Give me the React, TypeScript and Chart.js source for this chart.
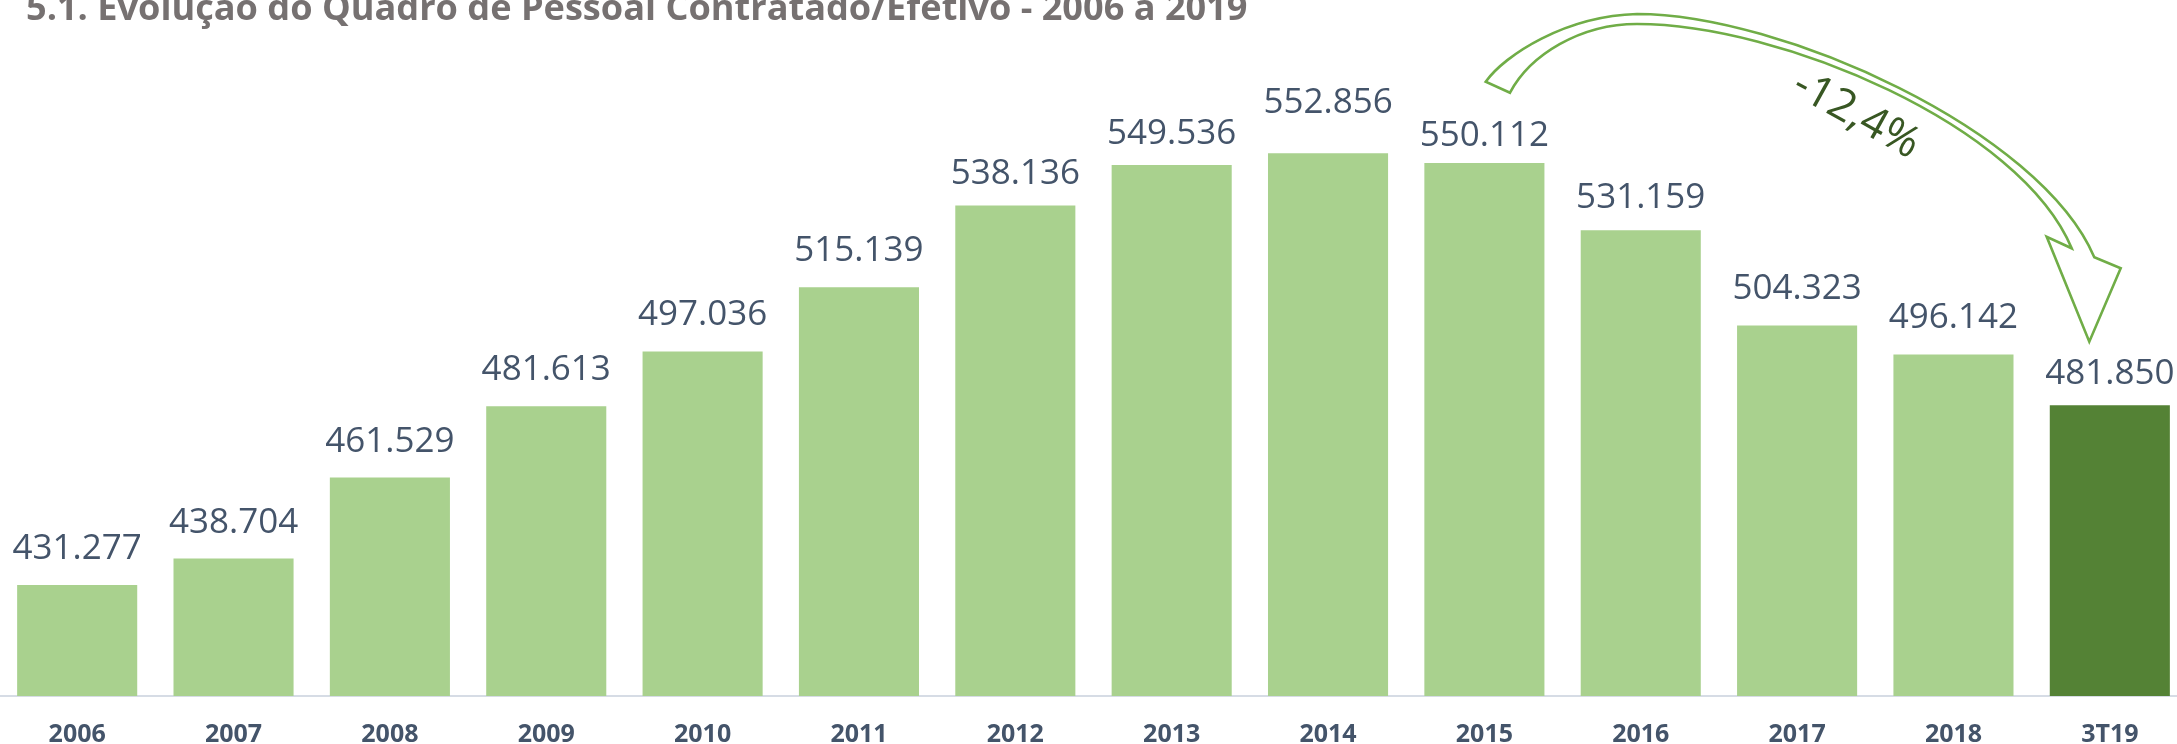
import React, { useEffect, useRef } from 'react';
import { Chart, registerables } from 'chart.js';

Chart.register(...registerables);

// ---- data ----
const categories = ['2006', '2007', '2008', '2009', '2010', '2011', '2012', '2013', '2014', '2015', '2016', '2017', '2018', '3T19'];
const headcount = [431277, 438704, 461529, 481613, 497036, 515139, 538136, 549536, 552856, 550112, 531159, 504323, 496142, 481850];
const highlightCategory = '3T19';
const titleText = '5.1. Evolução do Quadro de Pessoal Contratado/Efetivo - 2006 a 2019';
const changeText = '-12,4%';

// ---- styling ----
const LIGHT_GREEN = '#A9D18E';
const DARK_GREEN = '#548235';
const TEXT_BLUE = '#44546A';
const ARROW_GREEN = '#70AD47';
const CANVAS_W = 2189;
const CANVAS_H = 744;
const CANVAS_LEFT = -1;
// vertical gap (px) between each label's baseline and its bar top, as placed in the original
const labelGap = [26, 26, 26, 26, 26, 26, 21, 21, 40, 17, 22, 27, 27, 21];

function fmt(v: number): string {
  return String(v).replace(/\B(?=(\d{3})+(?!\d))/g, '.');
}

const valueLabels = {
  id: 'valueLabels',
  afterDatasetsDraw(chart: any) {
    const ctx = chart.ctx;
    const meta = chart.getDatasetMeta(0);
    ctx.save();
    ctx.font = '35px "Open Sans"';
    ctx.fillStyle = TEXT_BLUE;
    ctx.textAlign = 'center';
    ctx.textBaseline = 'alphabetic';
    meta.data.forEach((bar: any, i: number) => {
      ctx.fillText(fmt(headcount[i]), bar.x, bar.y - labelGap[i]);
    });
    ctx.restore();
  },
};

const decorations = {
  id: 'decorations',
  afterDraw(chart: any) {
    const ctx = chart.ctx;
    const ox = -CANVAS_LEFT;
    const P = (x: number, y: number): [number, number] => [x + ox, y];
    ctx.save();
    // title
    ctx.font = 'bold 31px "Open Sans"';
    ctx.fillStyle = '#767171';
    ctx.textAlign = 'left';
    ctx.textBaseline = 'alphabetic';
    const w = ctx.measureText(titleText).width;
    const target = 1222;
    const size = 31 * target / w;
    ctx.font = `bold ${size.toFixed(2)}px "Open Sans"`;
    ctx.fillText(titleText, ...P(26, 20));

    // curved block arrow (outline)
    ctx.beginPath();
    ctx.moveTo(...P(1485.7, 81.7));
    ctx.bezierCurveTo(...P(1505, 55), ...P(1565, 16), ...P(1637, 14));
    ctx.bezierCurveTo(...P(1780, 14), ...P(2040, 130), ...P(2094.3, 257.3));
    ctx.lineTo(...P(2120.7, 268.3));
    ctx.lineTo(...P(2089.3, 341.7));
    ctx.lineTo(...P(2046.7, 236.7));
    ctx.lineTo(...P(2071.7, 248.3));
    ctx.bezierCurveTo(...P(2020, 125), ...P(1780, 24), ...P(1637, 24));
    ctx.bezierCurveTo(...P(1580, 24), ...P(1530, 55), ...P(1510, 92.7));
    ctx.closePath();
    ctx.strokeStyle = ARROW_GREEN;
    ctx.lineWidth = 2.6;
    ctx.lineJoin = 'miter';
    ctx.stroke();

    // change label
    ctx.translate(...P(1856, 115));
    ctx.rotate((29 * Math.PI) / 180);
    ctx.font = '44px "Open Sans"';
    ctx.fillStyle = '#385723';
    ctx.textAlign = 'center';
    ctx.textBaseline = 'middle';
    ctx.fillText(changeText, 0, 0);
    ctx.restore();
  },
};

export default function App() {
  const ref = useRef<HTMLCanvasElement>(null);

  useEffect(() => {
    if (!ref.current) return;
    const chart = new Chart(ref.current, {
      type: 'bar',
      data: {
        labels: categories,
        datasets: [
          {
            data: headcount,
            backgroundColor: categories.map((c) => (c === highlightCategory ? DARK_GREEN : LIGHT_GREEN)),
            borderWidth: 0,
            categoryPercentage: 1,
            barPercentage: 0.768,
          },
        ],
      },
      options: {
        animation: false,
        responsive: false,
        devicePixelRatio: 1,
        layout: { padding: 0 },
        plugins: {
          legend: { display: false },
          tooltip: { enabled: false },
          title: { display: false },
        },
        scales: {
          x: {
            grid: { display: false, drawTicks: false },
            border: { display: true, color: '#D6DCE5', width: 2 },
            ticks: {
              color: TEXT_BLUE,
              font: { family: '"Open Sans"', size: 25, weight: 'bold' },
              padding: 24,
              maxRotation: 0,
              autoSkip: false,
            },
            afterFit: (scale: any) => {
              scale.height = 48;
            },
          },
          y: {
            display: false,
            min: 400000,
            max: 596000,
          },
        },
      },
      plugins: [valueLabels, decorations],
    });
    return () => chart.destroy();
  }, []);

  return (
    <div style={{ position: 'fixed', left: 0, top: 0, width: '100vw', height: '100vh', overflow: 'hidden', background: '#fff' }}>
      <canvas ref={ref} width={CANVAS_W} height={CANVAS_H} style={{ position: 'absolute', left: CANVAS_LEFT, top: 0, width: CANVAS_W, height: CANVAS_H }} />
    </div>
  );
}
